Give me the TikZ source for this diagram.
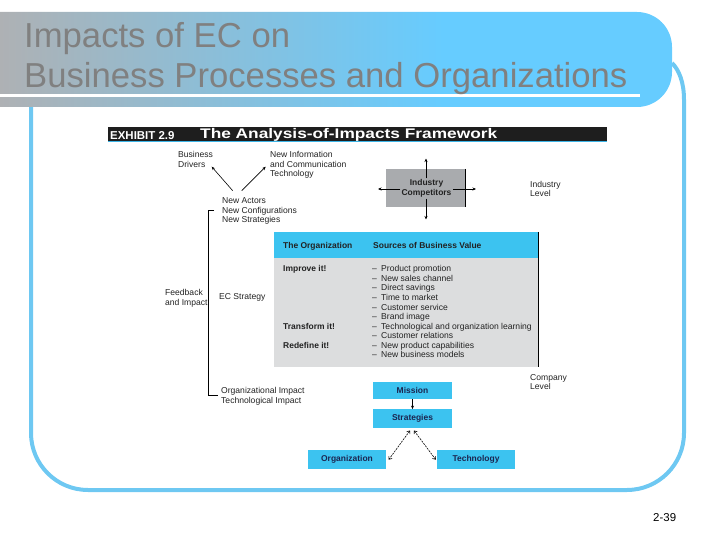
\documentclass[tikz,border=0pt]{standalone}
\usepackage{fontspec}
\setmainfont{Liberation Sans}
\usetikzlibrary{arrows.meta}
\definecolor{tgray}{HTML}{AEB1B4}
\definecolor{tblue}{HTML}{66CCFF}
\definecolor{frameblue}{HTML}{6EC8F2}
\definecolor{cyanbox}{HTML}{3CC3F0}
\definecolor{bodygray}{HTML}{DCDDDE}
\definecolor{compgray}{HTML}{A9ABAE}
\definecolor{navy}{HTML}{1B2550}
\definecolor{titletext}{HTML}{808080}
\definecolor{txt}{HTML}{222222}
\definecolor{hdrblack}{HTML}{1E1E1E}
\definecolor{hdrline}{HTML}{3CB4E6}
\pgfdeclarehorizontalshading{titleshade}{100bp}{color(0bp)=(tgray); color(25bp)=(tgray); color(58bp)=(tblue); color(100bp)=(tblue)}
\begin{document}
\begin{tikzpicture}[x=1bp,y=-1bp,
  lbl/.style={font=\fontsize{8.6}{9.6}\selectfont, text=txt, align=left, anchor=base west, inner sep=0pt},
  boldlbl/.style={lbl, font=\fontsize{8.5}{9.6}\selectfont\bfseries},
  cbox/.style={fill=cyanbox, draw=none, inner sep=0pt, font=\fontsize{8.5}{10}\selectfont\bfseries, text=navy},
  thinline/.style={line width=0.6bp, draw=black},
  tip/.style={-{Stealth[length=3.5bp,width=3bp]}},
  dasharrow/.style={line width=0.6bp, draw=black, dash pattern=on 2bp off 1bp, {Straight Barb[length=2.5bp,width=4bp]}-{Straight Barb[length=2.5bp,width=4bp]}},
  frame/.style={draw=frameblue, line width=4bp},
]
\useasboundingbox (0,0) rectangle (720,540);
% frame
\draw[frame] (31,107) -- (31,433) arc[start angle=180, end angle=90, radius=57]
  -- (627,490) arc[start angle=90, end angle=0, radius=57]
  -- (684,100) .. controls (684,82) and (679,70) .. (672,63);
% title bar
\shade[shading=titleshade] (0,12) -- (637,12) arc[start angle=-90, end angle=0, radius=35]
  -- (672,72) arc[start angle=0, end angle=90, radius=35] -- (0,107) -- cycle;
\fill[white] (0,94.5) rectangle (640,97.5);
\node[anchor=base west, inner sep=0pt, font=\fontsize{34.8}{40}\selectfont, text=titletext] (t1) at (24,48) {Impacts of EC on};
\node[anchor=base west, inner sep=0pt, font=\fontsize{34.8}{40}\selectfont, text=titletext] (t2) at (24,88) {Business Processes and Organizations};
\node[anchor=base west, inner sep=0pt, font=\fontsize{11.5}{13}\selectfont] (pg) at (653,521.5) {2-39};
% exhibit header
\fill[hdrblack] (108,127) rectangle (607,141);
\fill[hdrline] (108,141) rectangle (607,142.5);
\node[anchor=base west, inner sep=0pt, text=white, font=\fontsize{11.5}{12}\selectfont\bfseries] (exh) at (110,139.3) {EXHIBIT 2.9};
\node[anchor=base west, inner sep=0pt, text=white, font=\fontsize{14}{15}\selectfont\bfseries] (ttl) at (200,138.5) {\scalebox{1.24}[1]{The Analysis-of-Impacts Framework}};
% upper labels (anchor = baseline of last line)
\node[lbl] (bd) at (178,167.1) {Business\\Drivers};
\node[lbl] (nict) at (270,176.7) {New Information\\and Communication\\Technology};
\node[lbl] (nac) at (222,222.7) {New Actors\\New Configurations\\New Strategies};
\coordinate (a1t) at (232.7,190.7);
\coordinate (a1h) at (211.7,166.7);
\coordinate (a2t) at (241.7,190.7);
\coordinate (a2h) at (265.7,166.7);
\draw[thinline, tip] (a1t) -- (a1h);
\draw[thinline, tip] (a2t) -- (a2h);
% industry competitors
\node[fill=compgray, minimum width=79bp, minimum height=38bp, inner sep=0pt] (ind) at (425.5,188) {};
\draw[thinline] (ind.north east) -- (ind.south east);
\node[inner sep=1.2bp, font=\fontsize{8.5}{9.8}\selectfont\bfseries, text=txt, align=center] (indt) at (426.5,188.5) {Industry\\Competitors};
\coordinate (iup) at (426,158.5);
\coordinate (idn) at (426,219.5);
\coordinate (ilf) at (378,189);
\coordinate (irt) at (476,189);
\draw[thinline, tip] (indt.north -| iup) -- (iup);
\draw[thinline, tip] (indt.south -| idn) -- (idn);
\draw[thinline, tip] (indt.west |- ilf) -- (ilf);
\draw[thinline, tip] (indt.east |- irt) -- (irt);
\node[lbl] (il) at (530,196.6) {Industry\\Level};
% bracket
\coordinate (bt) at (214,210);
\coordinate (bc1) at (208.5,210);
\coordinate (bc2) at (208.5,395);
\coordinate (bb) at (218,395);
\draw[thinline] (bt) -- (bc1) -- (bc2) -- (bb);
\node[lbl] (fb) at (165,305.1) {Feedback\\and Impact};
\node[lbl] (ecs) at (219,299) {EC Strategy};
\node[lbl] (oi) at (221,403.1) {Organizational Impact\\Technological Impact};
% table
\fill[cyanbox] (274,232) rectangle (537.5,258);
\fill[bodygray] (274,258) rectangle (537.5,367);
\coordinate (rl1) at (538,232);
\coordinate (rl2) at (538,367);
\draw[thinline] (rl1) -- (rl2);
\node[boldlbl] (torg) at (283,248.5) {The Organization};
\node[boldlbl] (sbv) at (373,248.5) {Sources of Business Value};
\node[boldlbl] (imp) at (283,271.5) {Improve it!};
\node[boldlbl] (trf) at (283,329.1) {Transform it!};
\node[boldlbl] (rdf) at (283,348.3) {Redefine it!};
\node[lbl] (dashes) at (372,357.9) {–\\–\\–\\–\\–\\–\\–\\–\\–\\–};
\node[lbl] (items) at (381,357.9) {Product promotion\\New sales channel\\Direct savings\\Time to market\\Customer service\\Brand image\\Technological and organization learning\\Customer relations\\New product capabilities\\New business models};
\node[lbl] (cl) at (530,389.6) {Company\\Level};
% lower boxes
\node[cbox, minimum width=79bp, minimum height=17.5bp] (mission) at (412.5,390.5) {Mission};
\node[cbox, minimum width=79bp, minimum height=19bp] (strategies) at (412.5,418.8) {Strategies};
\node[cbox, minimum width=78bp, minimum height=19.3bp] (organization) at (347,459.7) {Organization};
\node[cbox, minimum width=78bp, minimum height=19.3bp] (technology) at (476,459.7) {Technology};
\draw[thinline, tip] (mission.south) -- (strategies.north);
\draw[dasharrow] ([xshift=-2.5bp,yshift=-2bp]strategies.south) -- ([xshift=2.5bp]organization.east);
\draw[dasharrow] ([xshift=1.5bp,yshift=-2bp]strategies.south) -- ([xshift=-1bp]technology.west);
\end{tikzpicture}
\end{document}
